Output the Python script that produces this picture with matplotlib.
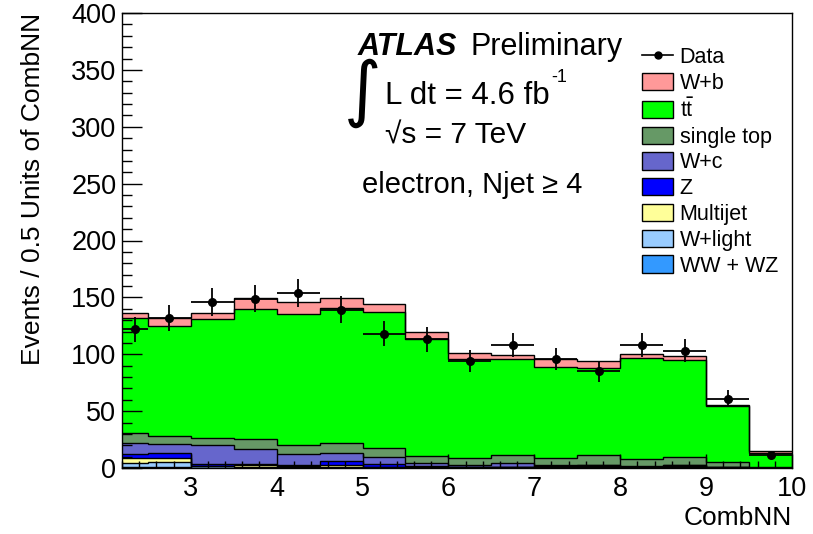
import numpy as np
import matplotlib
matplotlib.use("Agg")
import matplotlib.pyplot as plt
from matplotlib.patches import Patch
from matplotlib.lines import Line2D
from matplotlib.ticker import MultipleLocator

plt.rcParams['font.family'] = ['Liberation Sans', 'DejaVu Sans']

# === Datos ===
bordes = [2.2, 2.5, 3.0, 3.5, 4.0, 4.5, 5.0, 5.5, 6.0, 6.5, 7.0, 7.5, 8.0, 8.5, 9.0, 9.5, 10.0]

ww_wz = [0.8, 0.8, 0.3, 0.3, 0.3, 0.3, 0.2, 0.2, 0.2, 0.2, 0.2, 0.2, 0.2, 0.2, 0.1, 0.05]
w_light = [3.9, 4.8, 1.2, 0.8, 0.8, 0.8, 0.5, 0.3, 0.3, 0.3, 0.3, 0.3, 0.3, 0.3, 0.2, 0.1]
multijet = [3.8, 3.5, 0.5, 1.2, 0.6, 1.3, 0.4, 0.3, 0.2, 0.2, 0.3, 1.5, 0.3, 1.5, 0.2, 0.0]
z_jets = [3.8, 4.4, 1.8, 1.5, 1.0, 4.0, 2.2, 0.8, 0.5, 0.5, 0.8, 0.3, 0.3, 0.3, 0.2, 0.05]
w_c = [10.0, 7.6, 16.4, 12.9, 9.3, 6.5, 6.1, 2.5, 1.8, 2.8, 0.9, 0.7, 0.9, 0.7, 0.5, 0.1]
single_top = [8.2, 7.3, 6.5, 8.5, 8.2, 8.8, 7.9, 6.7, 5.5, 7.4, 6.0, 8.4, 5.6, 6.4, 3.8, 0.5]
ttbar = [101.1, 96.4, 104.0, 114.6, 114.9, 119.3, 120.1, 102.2, 87.3, 84.4, 80.0, 76.8, 88.8, 85.5, 49.5, 12.7]
w_b = [4.4, 6.8, 5.8, 9.4, 11.1, 8.4, 6.5, 6.8, 5.0, 3.8, 7.6, 6.2, 3.8, 3.6, 0.5, 1.4]
datos = [122, 132, 146, 149, 154, 139, 118, 113, 94, 108, 96, 85, 108, 103, 61, 11]

# orden de apilado (de abajo hacia arriba)
componentes = [
    ("WW + WZ", ww_wz, "#3399ff"),
    ("W+light", w_light, "#99ccff"),
    ("Multijet", multijet, "#ffff99"),
    ("Z", z_jets, "#0000ff"),
    ("W+c", w_c, "#6666cc"),
    ("single top", single_top, "#669966"),
    (r"t$\bar{\mathregular{t}}$", ttbar, "#00ff00"),
    ("W+b", w_b, "#ff9999"),
]

W, H = 813, 534
fig = plt.figure(figsize=(W / 100, H / 100), dpi=100)
ax = fig.add_axes([122 / W, 1 - 468 / H, 670 / W, 455 / H])

bordes = np.array(bordes)
base = np.zeros(len(bordes) - 1)
cimas = []
for nombre, vals, color in componentes:
    cima = base + np.array(vals)
    ax.stairs(cima, bordes, baseline=base, fill=True, facecolor=color, edgecolor='none', zorder=1)
    cimas.append(cima)
    base = cima
for cima in cimas:
    ax.stairs(cima, bordes, baseline=None, color='black', lw=1.0, zorder=1.2)

centros = 0.5 * (bordes[:-1] + bordes[1:])
medio_ancho = 0.5 * np.diff(bordes)
datos = np.array(datos)
ax.errorbar(centros, datos, xerr=medio_ancho, yerr=np.sqrt(datos), fmt='o', color='black',
            ms=5.5, lw=1.3, capsize=0, zorder=3)

ax.set_xlim(2.2, 10)
ax.set_ylim(0, 400)
ax.xaxis.set_minor_locator(MultipleLocator(0.2))
ax.yaxis.set_major_locator(MultipleLocator(50))
ax.yaxis.set_minor_locator(MultipleLocator(10))
ax.set_xticks(range(3, 11))
ax.tick_params(axis='both', which='both', direction='in', top=False, right=False,
               labelsize=19.5, width=1.0, color='black')
ax.tick_params(axis='y', which='major', length=14.5, pad=4)
ax.tick_params(axis='y', which='minor', length=7.2)
ax.tick_params(axis='x', which='major', length=9.8, pad=6)
ax.tick_params(axis='x', which='minor', length=4.9)
for s in ax.spines.values():
    s.set_linewidth(1.0)

ax.set_ylabel("Events / 0.5 Units of CombNN", fontsize=19, loc='top')
ax.yaxis.set_label_coords((45 - 122) / 670, 1.0)
ax.set_xlabel("CombNN", fontsize=19, loc='right')
ax.xaxis.set_label_coords(1.0, -(506 - 468) / 455)


def fx(px):
    return px / W


def fy(py):
    return 1 - py / H


fig.text(fx(358), fy(55), "ATLAS", fontsize=22, fontweight='bold', fontstyle='italic')
fig.text(fx(470), fy(55), "Preliminary", fontsize=22)
fig.text(fx(363), fy(93), "\u222b", fontsize=52, family=['DejaVu Sans'], ha='center', va='center')
fig.text(fx(385), fy(104), "L dt = 4.6 fb", fontsize=22.5)
fig.text(fx(551), fy(82), "-1", fontsize=13)
fig.text(fx(385), fy(144), "\u221as = 7 TeV", fontsize=21.5)
fig.text(fx(362), fy(193), "electron, Njet \u2265 4", fontsize=21)

# leyenda
manijas = [Line2D([0], [0], color='black', marker='o', ms=5, lw=1.2)]
etiquetas = ["Data"]
for nombre, vals, color in reversed(componentes):
    manijas.append(Patch(facecolor=color, edgecolor='black', lw=1.0))
    etiquetas.append(nombre)
ax.legend(manijas, etiquetas, loc='upper left', bbox_to_anchor=(fx(642), fy(47)),
          bbox_transform=fig.transFigure, frameon=False, fontsize=15.5, borderpad=0,
          borderaxespad=0, handlelength=1.45, handleheight=0.85, handletextpad=0.3,
          labelspacing=0.22)

fig.savefig("out.png", dpi=100)
